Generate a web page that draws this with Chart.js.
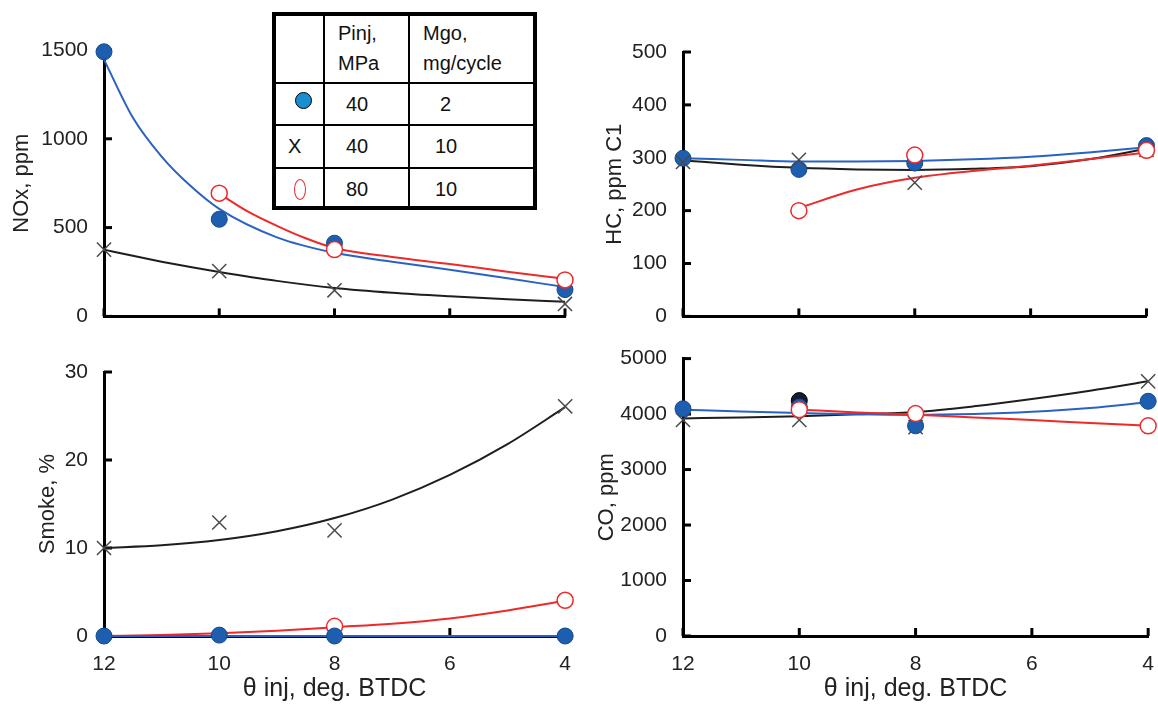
<!DOCTYPE html>
<html>
<head>
<meta charset="utf-8">
<script src="https://cdn.jsdelivr.net/npm/chart.js@4.4.1/dist/chart.umd.min.js"></script>
<style>
  body { margin: 0; background: #fff; }
  #wrap { position: relative; width: 1158px; height: 704px; background: #fff; overflow: hidden; font-family: "Liberation Sans", Arial, sans-serif; }
  .panel { position: absolute; }
  .panel canvas { display: block; }
  #legend { position: absolute; left: 272px; top: 12px; width: 265px; height: 198px; box-sizing: border-box;
            border: 4px solid #000; color: #111; font-size: 20px; background: #fff; }
  #legend .ln { position: absolute; background: #000; }
  #legend .t { position: absolute; line-height: 30px; white-space: nowrap; }
</style>
</head>
<body>
<div id="wrap">
  <div class="panel" style="left:0;top:0"><canvas id="cNox" width="580" height="345"></canvas></div>
  <div class="panel" style="left:580px;top:0"><canvas id="cHc" width="578" height="345"></canvas></div>
  <div class="panel" style="left:0;top:330px"><canvas id="cSmoke" width="587" height="374"></canvas></div>
  <div class="panel" style="left:580px;top:330px"><canvas id="cCo" width="590" height="374"></canvas></div>

  <div id="legend">
    <div class="ln" style="left:47px;top:0;width:1.5px;height:190px"></div>
    <div class="ln" style="left:132px;top:0;width:1.5px;height:190px"></div>
    <div class="ln" style="left:0;top:66px;width:257px;height:1.5px"></div>
    <div class="ln" style="left:0;top:108px;width:257px;height:1.5px"></div>
    <div class="ln" style="left:0;top:151px;width:257px;height:1.5px"></div>
    <div class="t" style="left:62px;top:2px">Pinj,<br>MPa</div>
    <div class="t" style="left:147px;top:2px">Mgo,<br>mg/cycle</div>
    <div style="position:absolute;left:19px;top:76px;width:15px;height:15px;border-radius:50%;background:#1a8fd0;border:1.5px solid #000"></div>
    <div class="t" style="left:70px;top:73px">40</div>
    <div class="t" style="left:164px;top:73px">2</div>
    <div class="t" style="left:12px;top:115px">X</div>
    <div class="t" style="left:70px;top:115px">40</div>
    <div class="t" style="left:159px;top:115px">10</div>
    <div style="position:absolute;left:18px;top:163px;width:10px;height:19px;border-radius:50%;border:1.5px solid #e82828"></div>
    <div class="t" style="left:70px;top:158px">80</div>
    <div class="t" style="left:159px;top:158px">10</div>
  </div>
</div>

<script>
// x positions (injection timing, deg BTDC)
const xTicks = [12, 10, 8, 6, 4];
const xMeas = [12, 10, 8, 4];
const xMeasRed = [10, 8, 4];
const xFit = [12, 11, 10, 9, 8, 7, 6, 5, 4];
const xFitRed = [10, 9, 8, 7, 6, 5, 4];
const xFitNox = [12, 11.5, 11, 10.5, 10, 9, 8, 7, 6, 5, 4];
const xFitNoxRed = [10, 9.5, 9, 8.5, 8, 7, 6, 5, 4];

// NOx, ppm
const noxBlue = [1490, 547, 412, 151];
const noxCross = [376, 255, 147, 70];
const noxRed = [694, 376, 205];
const noxBlueFit = [1446, 1120, 900, 735, 605, 445, 358, 308, 263, 215, 165];
const noxCrossFit = [376, 341, 308, 278, 250, 200, 160, 133, 113, 96, 83];
const noxRedFit = [691, 590, 510, 440, 385, 335, 295, 252, 212];

// HC, ppm C1
const hcBlue = [299, 278, 290, 323];
const hcCross = [292, 296, 253, 315];
const hcRed = [200, 305, 314];
const hcBlueFit = [299, 296, 293, 293, 294, 297, 302, 310, 320];
const hcCrossFit = [295, 287, 281, 278, 277, 279, 284, 297, 317];
const hcRedFit = [205, 240, 262, 275, 285, 297, 310];

// Smoke, %
const xSmokeRed = [8, 4];
const smokeBlue = [0, 0.1, 0, 0];
const smokeCross = [10, 12.9, 12.0, 26.1];
const smokeRed = [1.1, 4.06];
const smokeBlueFit = [0, 0, 0, 0, 0, 0, 0, 0, 0];
const smokeCrossFit = [10, 10.3, 10.9, 11.9, 13.4, 15.5, 18.3, 21.8, 26.0];
const smokeRedFit = [0, 0.1, 0.3, 0.6, 1.0, 1.4, 2.0, 2.9, 4.0];

// CO, ppm
const xCoDark = [10];
const coDark = [4243];
const coBlue = [4096, 4126, 3788, 4231];
const coCross = [3893, 3893, 3765, 4590];
const coRed = [4079, 4009, 3788];
const coBlueFit = [4080, 4045, 4020, 3995, 3985, 4000, 4040, 4110, 4215];
const coCrossFit = [3922, 3940, 3963, 3995, 4038, 4140, 4271, 4420, 4590];
const coRedFit = [4080, 4030, 3990, 3940, 3893, 3840, 3790];

const BLUE = '#1d5eb0', BLUE_LINE = '#2a62c4', RED = '#ec2a2a', BLACK = '#1e1e1e', CROSS = '#4a4a4a';
const FONT = '"Liberation Sans", Arial, sans-serif';

function pts(xs, ys) { return xs.map((x, i) => ({ x: x, y: ys[i] })); }

function marks(kind, xs, ys) {
  const base = { type: 'scatter', data: pts(xs, ys), showLine: false, clip: false };
  if (kind === 'blue') return Object.assign(base, { pointRadius: 8, pointBackgroundColor: BLUE, pointBorderColor: '#174a8c', pointBorderWidth: 1 });
  if (kind === 'dark') return Object.assign(base, { pointRadius: 8, pointBackgroundColor: '#141e30', pointBorderColor: '#000', pointBorderWidth: 1 });
  if (kind === 'red') return Object.assign(base, { pointRadius: 8, pointBackgroundColor: '#fff', pointBorderColor: RED, pointBorderWidth: 1.5 });
  return Object.assign(base, { pointStyle: 'crossRot', pointRadius: 10, pointBorderColor: CROSS, pointBorderWidth: 1.5 });
}

function curve(color, xs, ys) {
  return { type: 'line', data: pts(xs, ys), borderColor: color, borderWidth: 2, pointRadius: 0,
           cubicInterpolationMode: 'monotone', fill: false, clip: false };
}

// tick marks pointing into the plot
const inwardTicks = {
  id: 'inwardTicks',
  beforeDatasetsDraw(chart) {
    const { ctx, scales: { x, y } } = chart;
    ctx.save();
    ctx.strokeStyle = '#000';
    ctx.lineWidth = 3;
    y.ticks.forEach(t => {
      const py = y.getPixelForValue(t.value);
      ctx.beginPath(); ctx.moveTo(y.right, py); ctx.lineTo(y.right + 8, py); ctx.stroke();
    });
    xTicks.forEach(v => {
      const px = x.getPixelForValue(v);
      ctx.beginPath(); ctx.moveTo(px, x.top); ctx.lineTo(px, x.top - 8); ctx.stroke();
    });
    ctx.restore();
  }
};

function makePanel(id, p) {
  new Chart(document.getElementById(id), {
    data: { datasets: p.datasets },
    options: {
      responsive: false,
      animation: false,
      devicePixelRatio: 1,
      layout: { padding: { top: p.padTop, right: p.padRight, left: 0, bottom: 0 } },
      plugins: { legend: { display: false }, tooltip: { enabled: false } },
      scales: {
        x: {
          type: 'linear', reverse: true, min: 4, max: 12,
          afterFit: s => { s.height = p.xHeight; },
          ticks: { display: p.xLabels, stepSize: 2, padding: 16, color: '#222', font: { family: FONT, size: 21 }, callback: v => String(v) },
          grid: { display: true, drawOnChartArea: false, drawTicks: false },
          border: { color: '#000', width: 3 },
          title: { display: p.xLabels, text: 'θ inj, deg. BTDC', color: '#222', font: { family: FONT, size: 25 }, padding: { top: 0, bottom: 0 } }
        },
        y: {
          type: 'linear', min: p.yMin, max: p.yMax,
          afterFit: s => { s.width = p.areaLeft; },
          ticks: { stepSize: p.yStep, padding: 16, color: '#222', font: { family: FONT, size: 21 }, callback: v => String(v) },
          grid: { display: true, drawOnChartArea: false, drawTicks: false },
          border: { color: '#000', width: 3 },
          title: { display: true, text: p.yTitle, color: '#222', font: { family: FONT, size: 22 }, padding: { top: p.titlePad, bottom: 0 } }
        }
      }
    },
    plugins: [inwardTicks]
  });
}

makePanel('cNox', {
  yMin: 0, yMax: 1500, yStep: 500, yTitle: 'NOx, ppm', titlePad: 9,
  areaLeft: 104, padTop: 50, padRight: 15, xHeight: 17, xLabels: false,
  datasets: [
    marks('red', xMeasRed, noxRed),
    marks('blue', xMeas, noxBlue),
    marks('cross', xMeas, noxCross),
    curve(RED, xFitNoxRed, noxRedFit),
    curve(BLUE_LINE, xFitNox, noxBlueFit),
    curve(BLACK, xFitNox, noxCrossFit)
  ]
});

makePanel('cHc', {
  yMin: 0, yMax: 500, yStep: 100, yTitle: 'HC, ppm C1', titlePad: 22,
  areaLeft: 103, padTop: 52, padRight: 10, xHeight: 17, xLabels: false,
  datasets: [
    marks('red', xMeasRed, hcRed),
    marks('cross', xMeas, hcCross),
    marks('blue', xMeas, hcBlue),
    curve(RED, xFitRed, hcRedFit),
    curve(BLUE_LINE, xFit, hcBlueFit),
    curve(BLACK, xFit, hcCrossFit)
  ]
});

makePanel('cSmoke', {
  yMin: 0, yMax: 30, yStep: 10, yTitle: 'Smoke, %', titlePad: 35,
  areaLeft: 104, padTop: 42, padRight: 0, xHeight: 68, xLabels: true,
  datasets: [
    marks('blue', xMeas, smokeBlue),
    marks('red', xSmokeRed, smokeRed),
    marks('cross', xMeas, smokeCross),
    curve(BLUE_LINE, xFit, smokeBlueFit),
    curve(RED, xFit, smokeRedFit),
    curve(BLACK, xFit, smokeCrossFit)
  ]
});

makePanel('cCo', {
  yMin: 0, yMax: 5000, yStep: 1000, yTitle: 'CO, ppm', titlePad: 14,
  areaLeft: 103, padTop: 20, padRight: 0, xHeight: 68, xLabels: true,
  datasets: [
    marks('red', xMeasRed, coRed),
    marks('blue', xMeas, coBlue),
    marks('dark', xCoDark, coDark),
    marks('cross', xMeas, coCross),
    curve(RED, xFitRed, coRedFit),
    curve(BLUE_LINE, xFit, coBlueFit),
    curve(BLACK, xFit, coCrossFit)
  ]
});
</script>
</body>
</html>
